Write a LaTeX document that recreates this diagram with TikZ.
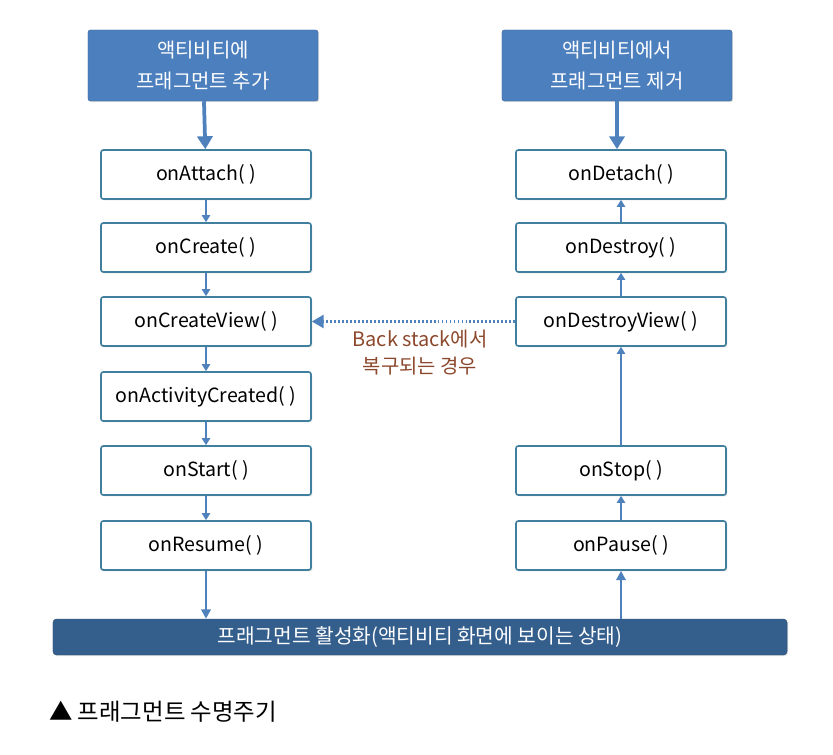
\documentclass[tikz,border=0pt]{standalone}
\usepackage{fontspec}
\setmainfont{Noto Sans CJK KR}
\usetikzlibrary{arrows.meta, shadows}

\definecolor{headblue}{RGB}{76,127,189}
\definecolor{barblue}{RGB}{52,94,140}
\definecolor{edgeteal}{RGB}{64,128,158}
\definecolor{flowblue}{RGB}{79,129,189}
\definecolor{notebrown}{RGB}{140,72,44}

\begin{document}
\begin{tikzpicture}[x=0.03cm, y=-0.03cm,
  headbox/.style={draw=headblue!80!black, fill=headblue, rounded corners=2pt,
    text=white, align=center, font=\fontsize{17}{26}\selectfont,
    minimum width=6.9cm, minimum height=2.13cm,
    drop shadow={opacity=0.25, shadow xshift=1pt, shadow yshift=-1pt}},
  callbox/.style={draw=edgeteal, line width=1.4pt, fill=white, rounded corners=2pt,
    font=\fontsize{16.7}{20}\selectfont, minimum width=6.3cm, minimum height=1.47cm,
    drop shadow={opacity=0.2, shadow xshift=1.2pt, shadow yshift=-1.2pt}},
  bigflow/.style={draw=flowblue, line width=3.2pt, -{Triangle[width=13pt, length=11pt]}},
  flow/.style={draw=flowblue, line width=1.8pt, -{Triangle[width=7pt, length=6pt]}},
  endflow/.style={draw=flowblue, line width=2pt, -{Triangle[width=8pt, length=8pt]}}]
  \useasboundingbox (0,0) rectangle (833,755);

  % start and end boxes
  \node[headbox] (add) at (203,65.5) {액티비티에\\프래그먼트 추가};
  \node[headbox] (remove) at (617,65.5) {액티비티에서\\프래그먼트 제거};

  % left column
  \node[callbox] (attach) at (206,174.5) {onAttach( )};
  \node[callbox] (create) at (206,247.5) {onCreate( )};
  \node[callbox] (createview) at (206,321.5) {onCreateView( )};
  \node[callbox] (actcreated) at (206,396.5) {onActivityCreated( )};
  \node[callbox] (start) at (206,470.5) {onStart( )};
  \node[callbox] (resume) at (206,545.5) {onResume( )};

  % right column
  \node[callbox] (detach) at (621,174.5) {onDetach( )};
  \node[callbox] (destroy) at (621,247.5) {onDestroy( )};
  \node[callbox] (destroyview) at (621,321.5) {onDestroyView( )};
  \node[callbox] (stop) at (621,470.5) {onStop( )};
  \node[callbox] (pause) at (621,545.5) {onPause( )};

  % active bar
  \node[draw=barblue!85!black, fill=barblue, rounded corners=3pt, text=white,
    minimum width=22.02cm, minimum height=1.08cm, font=\fontsize{17.3}{20}\selectfont,
    drop shadow={opacity=0.2, shadow xshift=1pt, shadow yshift=-1pt}]
    (active) at (420,637) {프래그먼트 활성화(액티비티 화면에 보이는 상태)};

  % arrows down
  \draw[bigflow] (add) -- (attach);
  \draw[flow] (attach) -- (create);
  \draw[flow] (create) -- (createview);
  \draw[flow] (createview) -- (actcreated);
  \draw[flow] (actcreated) -- (start);
  \draw[flow] (start) -- (resume);
  \draw[endflow] (resume) -- (resume.south |- active.north);

  % arrows up
  \draw[bigflow] (remove) -- (remove |- detach.north);
  \draw[endflow] (active.north -| pause) -- (pause);
  \draw[flow] (pause) -- (stop);
  \draw[flow] (stop) -- (destroyview);
  \draw[flow] (destroyview) -- (destroy);
  \draw[flow] (destroy) -- (detach);

  % back stack
  \draw[draw=flowblue, line width=2pt, dash pattern=on 1.6pt off 1.8pt,
    -{Triangle[width=11pt, length=10pt]}]
    (destroyview) -- (createview);
  \node[text=notebrown, align=center, font=\fontsize{17}{23}\selectfont]
    (backnote) at (420,353) {Back stack에서\\복구되는 경우};

  % caption
  \node[anchor=west, font=\fontsize{20}{24}\selectfont] (caption) at (45,712)
    {▲ 프래그먼트 수명주기};
\end{tikzpicture}
\end{document}
